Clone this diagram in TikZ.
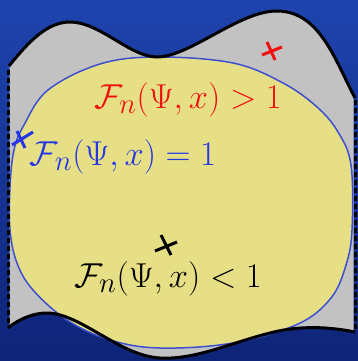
\documentclass[tikz,border=0pt]{standalone}
\usepackage{amsmath}
\begin{document}
\begin{tikzpicture}[x=1pt,y=-1pt,
  lbl/.style={inner sep=0pt,scale=1.39,font=\fontsize{24.88}{30}\selectfont},
  xmark/.style={line width=3pt,line cap=butt},
  edge/.style={line width=3pt,black},
  sidedash/.style={line width=3pt,draw=black,line cap=butt}]
\definecolor{bgtop}{HTML}{1E44AE}
\definecolor{bgbot}{HTML}{0E2478}
\definecolor{grayreg}{HTML}{C2C2C2}
\definecolor{blob}{HTML}{E6DF85}
\definecolor{blobedge}{HTML}{3E50D0}
\definecolor{redc}{HTML}{F01010}
\definecolor{bluec}{HTML}{2436E6}
\useasboundingbox (0,0) rectangle (358,361);
\shade[top color=bgtop,bottom color=bgbot] (0,0) rectangle (358,361);
% gray region
\fill[grayreg] (9.5,65) .. controls (30,40) and (48,22) .. (70,22)
  .. controls (100,22) and (130,57) .. (157,57)
  .. controls (190,57) and (240,10) .. (278,11)
  .. controls (320,12) and (335,60) .. (353.5,95)
  -- (353.5,332) .. controls (330,327) and (300,325) .. (270,333)
  .. controls (230,343) and (195,360) .. (160,358)
  .. controls (120,356) and (80,313) .. (47,313)
  .. controls (30,313) and (15,322) .. (9.5,327) -- cycle;
% yellow blob
\filldraw[fill=blob,draw=blobedge,line width=1.5pt]
  plot[smooth cycle,tension=0.6] coordinates {
   (157,57) (233,63) (283,83) (317,107) (338,132) (351,165) (352,230)
   (346,265) (331,298) (298,324) (233,343) (160,348) (110,340) (67,320)
   (33,290) (17,263) (10,230) (10,187) (14,150) (24,125) (48,90) (100,64)};
% boundary
\draw[edge] (9,66) .. controls (30,40) and (48,22) .. (70,22)
  .. controls (100,22) and (130,57) .. (157,57)
  .. controls (190,57) and (240,10) .. (278,11)
  .. controls (320,12) and (335,60) .. (355,98);
\draw[edge] (355,332) .. controls (330,327) and (300,325) .. (270,333)
  .. controls (230,343) and (195,360) .. (160,358)
  .. controls (120,356) and (80,313) .. (47,313)
  .. controls (30,313) and (15,322) .. (8,328);
\foreach \yy in {70,78,...,322} \draw[sidedash] (8,\yy) -- (8,\yy+5);
\foreach \yy in {100,108,...,328} \draw[sidedash] (355,\yy) -- (355,\yy+5);
% marks
\draw[xmark,redc] (262,55) -- (282,47);
\draw[xmark,redc] (267,42) -- (275,60);
\draw[xmark,bluec] (12,145) -- (33,132);
\draw[xmark,bluec] (17,131) -- (25,148);
\draw[xmark,black] (155,251) -- (177,242);
\draw[xmark,black] (161,235) -- (171,255);
% labels
\node[lbl,text=redc] (gt) at (188,100) {$\mathcal{F}_n(\Psi,x)>1$};
\node[lbl,text=bluec] (eq) at (123,157) {$\mathcal{F}_n(\Psi,x)=1$};
\node[lbl,text=black] (lt) at (168,279) {$\mathcal{F}_n(\Psi,x)<1$};
\end{tikzpicture}
\end{document}
